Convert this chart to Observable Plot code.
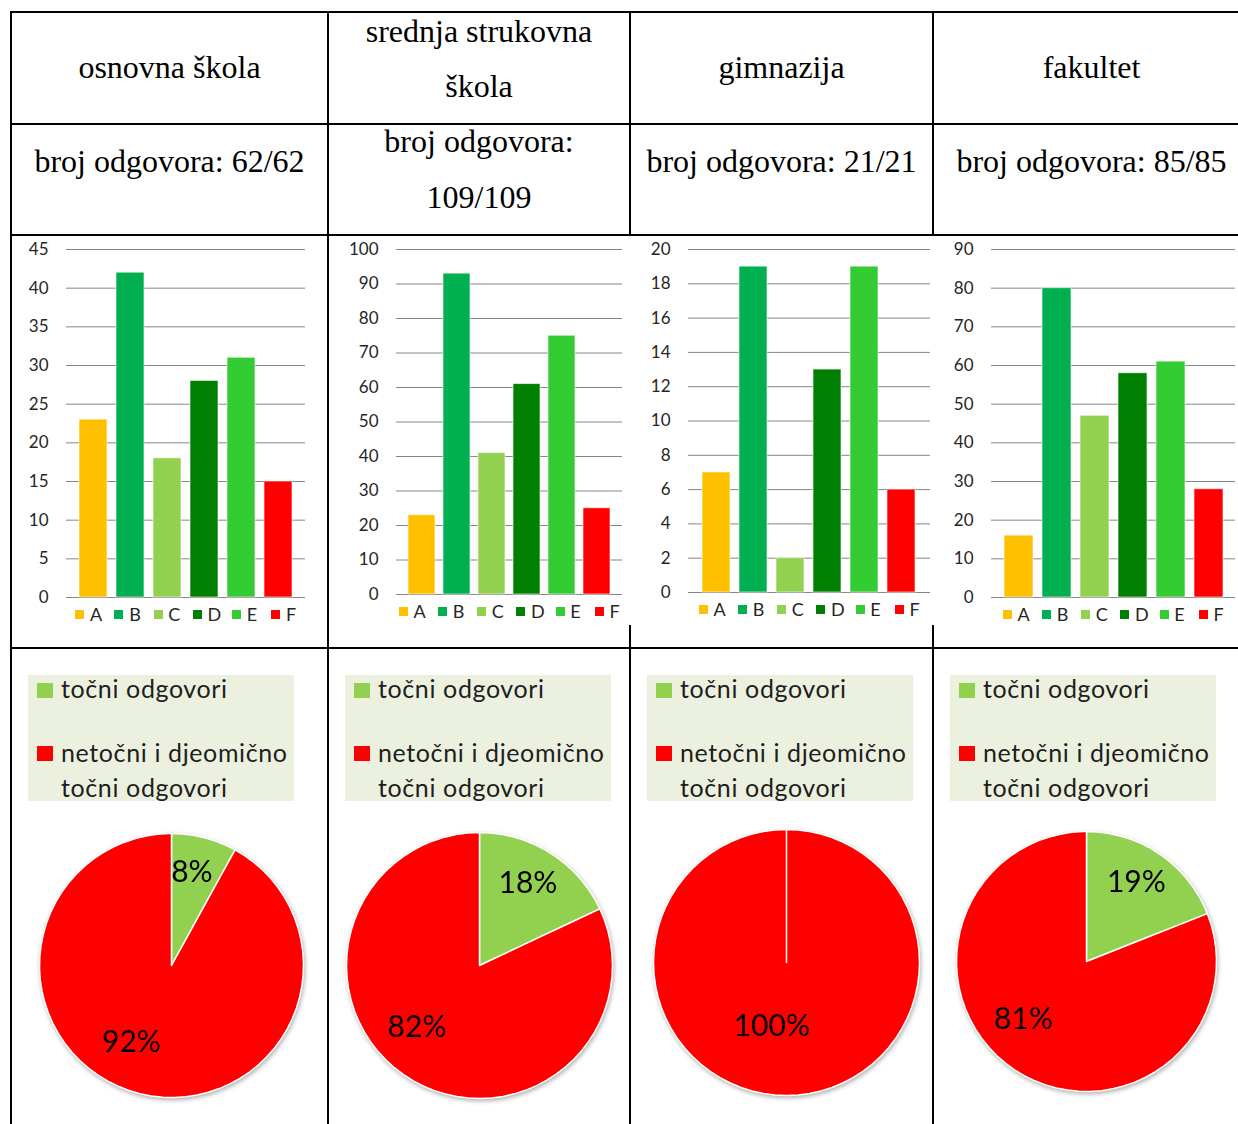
<!DOCTYPE html>
<html>
<head>
<meta charset="utf-8">
<script src="https://cdn.jsdelivr.net/npm/d3@7"></script>
<script src="https://cdn.jsdelivr.net/npm/@observablehq/plot@0.6"></script>
<style>
  html, body { margin: 0; padding: 0; background: #fff; }
  #page { position: relative; width: 1238px; height: 1124px; overflow: hidden; background: #fff; }
  .ln { position: absolute; background: #000; }
  .hdr { position: absolute; font-family: "Liberation Serif", "Times New Roman", serif; font-size: 32px; line-height: 32px; color: #000; text-align: center; white-space: nowrap; width: 400px; }
  .blg { position: absolute; height: 20px; font-family: Lato, sans-serif; font-size: 18px; line-height: 18px; color: #262626; }
  .blg .it { position: absolute; top: 0; }
  .blg .sq { position: absolute; top: 0; left: 0; width: 9px; height: 9px; }
  .blg .tx { position: absolute; left: 14.7px; top: -5.5px; white-space: nowrap; }
  .plg { position: absolute; width: 266px; height: 126px; background: #EBF1DE; font-family: Lato, sans-serif; color: #1e1e1e; }
  .plg .sq { position: absolute; left: 9px; width: 16px; height: 15px; }
  .plg .tx { position: absolute; left: 33px; white-space: nowrap; line-height: 25px; font-size: 25px; }
  .pie svg { filter: drop-shadow(1px 2px 2px rgba(0,0,0,0.30)); overflow: visible; }
</style>
</head>
<body>
<div id="page"></div>
<script>
// ---------------- data ----------------
const headerLines = [["osnovna škola"], ["srednja strukovna", "škola"], ["gimnazija"], ["fakultet"]];
const responseLabel = "broj odgovora:";
const responses = ["62/62", "109/109", "21/21", "85/85"];
const categories = ["A", "B", "C", "D", "E", "F"];
const osnovnaSkola = [23, 42, 18, 28, 31, 15];
const srednjaStrukovna = [23, 93, 41, 61, 75, 25];
const gimnazija = [7, 19, 2, 13, 19, 6];
const fakultet = [16, 80, 47, 58, 61, 28];
const yMax = [45, 100, 20, 90];
const yStep = [5, 10, 2, 10];
const pieLabels = ["točni odgovori", "netočni i djeomično točni odgovori"];
const correctPct = [8, 18, 0, 19];
const wrongPct = [92, 82, 100, 81];

const series = [osnovnaSkola, srednjaStrukovna, gimnazija, fakultet];
const catColors = ["#FFC000", "#00B050", "#92D050", "#008000", "#33CC33", "#FF0000"];
const pieColors = ["#92D050", "#FF0000"];

// ---------------- layout ----------------
const page = document.getElementById("page");
const colCenters = [169.5, 479, 781.5, 1091.5];
const frames = [
  {x0: 66, x1: 305, y0: 249, y1: 597},
  {x0: 396, x1: 622, y0: 249, y1: 594},
  {x0: 688, x1: 930, y0: 249, y1: 592},
  {x0: 991, x1: 1235, y0: 249, y1: 597}
];
const pieGeom = [
  {cx: 171, cy: 965, r: 132},
  {cx: 478.5, cy: 965, r: 133},
  {cx: 785.5, cy: 961.5, r: 133},
  {cx: 1085.5, cy: 961, r: 130}
];
const legendBoxX = [28, 345, 647, 950];

function el(tag, cls, css, parent) {
  const e = document.createElement(tag);
  if (cls) e.className = cls;
  if (css) e.style.cssText = css;
  (parent || page).appendChild(e);
  return e;
}

// table lines
function hline(y, x0, x1) { el("div", "ln", `left:${x0}px;top:${y}px;width:${x1 - x0}px;height:2px;`); }
function vline(x, y0, y1) { el("div", "ln", `left:${x}px;top:${y0}px;width:2px;height:${y1 - y0}px;`); }
hline(11, 10, 1238); hline(123, 10, 1238); hline(234, 10, 1238); hline(647, 10, 1238);
vline(10, 11, 1124); vline(327, 11, 1124);
vline(629, 11, 236); vline(629, 625, 1124);
vline(932, 11, 236); vline(932, 625, 1124);

// header texts (baselines)
function textLine(str, cx, baseline) {
  const d = el("div", "hdr", `left:${cx - 200}px;top:${baseline - 26.8}px;`);
  d.textContent = str;
}
headerLines.forEach((lines, i) => {
  if (lines.length === 1) textLine(lines[0], colCenters[i], 78);
  else { textLine(lines[0], colCenters[i], 42); textLine(lines[1], colCenters[i], 97); }
  const full = responseLabel + " " + responses[i];
  if (responses[i].length > 5) {
    textLine(responseLabel, colCenters[i], 152);
    textLine(responses[i], colCenters[i], 208);
  } else {
    textLine(full, colCenters[i], 172);
  }
});

// ---------------- bar charts ----------------
function barChart(i) {
  const f = frames[i];
  const data = categories.map((c, j) => ({cat: c, value: series[i][j]}));
  const ticks = d3.range(0, yMax[i] + yStep[i] / 2, yStep[i]);
  const ml = 60, mt = 12, mr = 2, mb = 3;
  const chart = Plot.plot({
    width: f.x1 - f.x0 + ml + mr,
    height: f.y1 - f.y0 + mt + mb,
    marginLeft: ml, marginTop: mt, marginRight: mr, marginBottom: mb,
    x: {domain: categories, paddingInner: 0.24, paddingOuter: 0.33, axis: null},
    y: {domain: [0, yMax[i]], ticks: ticks, tickSize: 0, tickPadding: 18, label: null},
    color: {domain: categories, range: catColors},
    style: {fontFamily: "Lato, sans-serif", fontSize: "17px", color: "#262626", background: "transparent", overflow: "visible"},
    marks: [
      Plot.ruleY(ticks, {stroke: "#868686", strokeWidth: 1}),
      Plot.barY(data, {x: "cat", y: "value", fill: "cat", stroke: "#ffffff", strokeWidth: 1, strokeOpacity: 0.6})
    ]
  });
  const wrap = el("div", null, `position:absolute;left:${f.x0 - ml}px;top:${f.y0 - mt}px;`);
  wrap.appendChild(chart);

  // legend below
  const step = 39.2;
  const total = 5 * step + 24.5;
  const left = (f.x0 + f.x1) / 2 - total / 2;
  const lg = el("div", "blg", `left:${left}px;top:${f.y1 + 13}px;width:${total}px;`);
  categories.forEach((c, j) => {
    const it = el("div", "it", `left:${j * step}px;`, lg);
    el("div", "sq", `background:${catColors[j]};`, it);
    const t = el("div", "tx", null, it);
    t.textContent = c;
  });
}

// ---------------- pie charts ----------------
function wedgeRing(t0, t1) {
  // angles clockwise from top (degrees) -> longitude in a north-pole-centred azimuthal view
  const lonA = 180 - t1, lonB = 180 - t0;
  const ring = [[lonA, 0], [lonA, 89.9999], [lonB, 89.9999], [lonB, 0]];
  for (let lon = lonB - 5; lon > lonA; lon -= 5) ring.push([lon, 0]);
  ring.push([lonA, 0]);
  return ring;
}

const ctx = document.createElement("canvas").getContext("2d");
ctx.font = "25px Lato";
const refStr = "netočni i djeomično";
const measured = ctx.measureText(refStr).width;
const legendLS = (226 - measured) / (refStr.length - 1);

function pieChart(i) {
  const vals = [correctPct[i], wrongPct[i]];
  const total = d3.sum(vals);
  let acc = 0;
  const slices = [];
  vals.forEach((v, k) => {
    const t0 = acc / total * 360; acc += v; const t1 = acc / total * 360;
    if (v > 0) slices.push({cat: pieLabels[k], v, t0, t1});
  });
  const features = slices.map(s => ({
    type: "Feature", properties: s,
    geometry: {type: "Polygon", coordinates: [wedgeRing(s.t0, s.t1)]}
  }));
  const labels = slices.map(s => {
    const mid = (s.t0 + s.t1) / 2;
    const big = s.v > 50;
    const ang = mid + (big ? 13 : -2);
    const rf = slices.length === 1 ? 0.49 : (big ? 0.66 : 0.72);
    return {lon: 180 - ang, lat: 90 - 90 * rf, text: s.v + "%"};
  });
  const g = pieGeom[i];
  const size = 2 * g.r + 4;
  const chart = Plot.plot({
    width: size, height: size, margin: 0,
    projection: {type: "azimuthal-equidistant", rotate: [0, -90], domain: d3.geoCircle().center([0, 90]).radius(90)(), inset: 2},
    color: {domain: pieLabels, range: pieColors},
    style: {fontFamily: "Lato, sans-serif", background: "transparent", overflow: "visible"},
    marks: [
      Plot.geo(features, {fill: d => d.properties.cat, stroke: "#ffffff", strokeWidth: 1.5}),
      Plot.text(labels, {x: "lon", y: "lat", text: "text", fontSize: 30, fill: "#000000"})
    ]
  });
  const wrap = el("div", "pie", `position:absolute;left:${g.cx - size / 2}px;top:${g.cy - size / 2}px;`);
  wrap.appendChild(chart);

  // legend above pie
  const box = el("div", "plg", `left:${legendBoxX[i]}px;top:675px;`);
  el("div", "sq", `top:8px;background:${pieColors[0]};`, box);
  el("div", "sq", `top:71px;background:${pieColors[1]};`, box);
  const F = 25;
  const lines = [[pieLabels[0], 23], ["netočni i djeomično", 87], ["točni odgovori", 122]];
  lines.forEach(([s, base]) => {
    const t = el("div", "tx", `top:${base - 0.887 * F}px;letter-spacing:${legendLS}px;`, box);
    t.textContent = s;
  });
}

for (let i = 0; i < 4; i++) { barChart(i); pieChart(i); }
</script>
</body>
</html>
